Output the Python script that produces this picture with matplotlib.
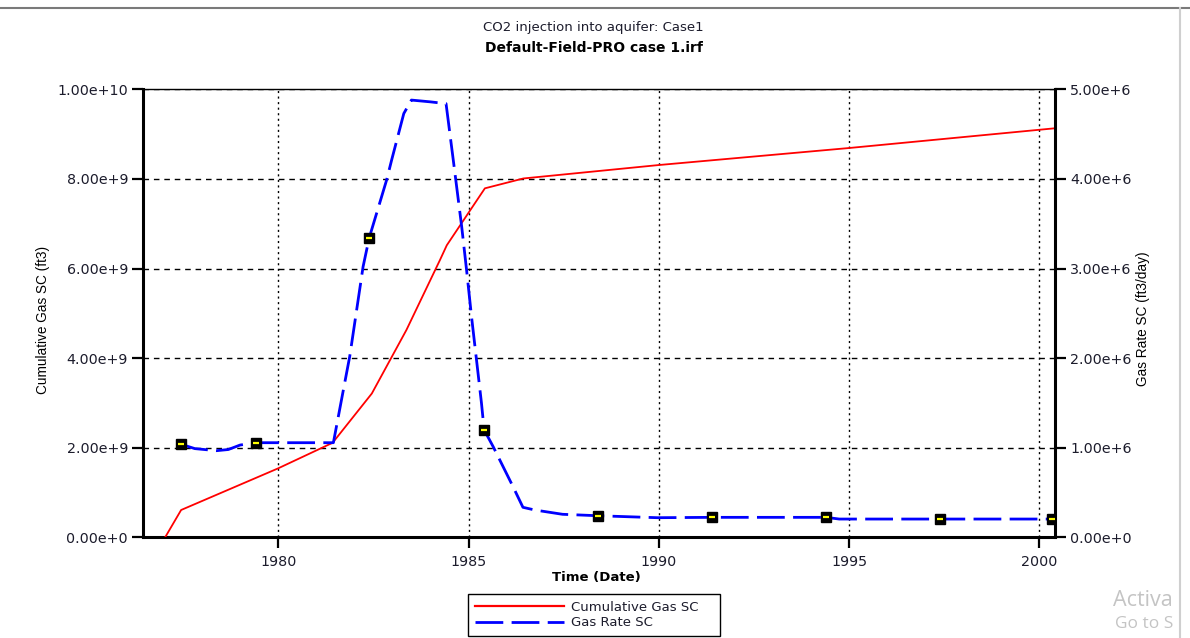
import numpy as np
import matplotlib
matplotlib.use("Agg")
import matplotlib.pyplot as plt
from matplotlib.lines import Line2D
from matplotlib.ticker import FuncFormatter, MultipleLocator

# Cumulative Gas SC (ft3), read per date (decimal year)
cum_years = [1977.03, 1977.45, 1980.0, 1981.43, 1982.46, 1983.37, 1984.25,
             1984.43, 1985.43, 1986.44, 1990.0, 1995.0, 2000.40]
cum_gas = [0.0, 0.61e9, 1.54e9, 2.11e9, 3.21e9, 4.63e9, 6.19e9,
           6.52e9, 7.79e9, 8.01e9, 8.31e9, 8.69e9, 9.13e9]

# Gas Rate SC (ft3/day)
rate_years = [1977.44, 1977.81, 1978.38, 1978.69, 1979.00, 1979.42, 1981.45,
              1981.71, 1981.88, 1982.23, 1982.39, 1982.85, 1982.98, 1983.30,
              1983.50, 1984.00, 1984.41, 1984.60, 1984.82, 1984.95, 1985.08,
              1985.21, 1985.34, 1985.41, 1985.65, 1986.17, 1986.43, 1986.74,
              1987.47, 1988.40, 1989.96, 1991.40, 1994.39, 1994.74, 1997.39,
              2000.34]
gas_rate = [1.04e6, 0.99e6, 0.967e6, 0.98e6, 1.03e6, 1.056e6, 1.056e6,
            1.64e6, 2.02e6, 3.02e6, 3.34e6, 3.99e6, 4.21e6, 4.73e6,
            4.88e6, 4.86e6, 4.84e6, 4.21e6, 3.47e6, 2.98e6, 2.46e6,
            1.98e6, 1.50e6, 1.20e6, 1.01e6, 0.565e6, 0.335e6, 0.305e6,
            0.257e6, 0.241e6, 0.219e6, 0.223e6, 0.223e6, 0.204e6, 0.204e6,
            0.204e6]
marker_years = [1977.44, 1979.42, 1982.39, 1985.41, 1988.40, 1991.40,
                1994.39, 1997.39, 2000.34]

x_ticks = [1980, 1985, 1990, 1995, 2000]

TXT = "#1c1c2c"
plt.rcParams["font.family"] = ["DejaVu Sans"]


def sci_fmt(v, pos=None):
    if v == 0:
        return "0.00e+0"
    e = int(np.floor(np.log10(abs(v)) + 1e-9))
    return f"{v / 10**e:.2f}e+{e}"


fig = plt.figure(figsize=(11.9, 6.38), dpi=100)
ax = fig.add_axes([0.1199, 0.1578, 0.7664, 0.7022])
ax2 = ax.twinx()

ax.plot(cum_years, cum_gas, color="#ff0000", lw=1.3, zorder=3)

mk_idx = list(np.where(np.isin(rate_years, marker_years))[0])
ax2.plot(rate_years, gas_rate, color="#0000ff", lw=2.0, dashes=(10, 3),
         marker="s", markersize=6.5, markerfacecolor="black",
         markeredgecolor="black", markevery=mk_idx, zorder=3)
ax2.plot([rate_years[i] for i in mk_idx], [gas_rate[i] for i in mk_idx],
         ls="none", marker="_", markersize=4, mew=1.6, color="#ffff00", zorder=4)

ax.set_xlim(1976.44, 2000.40)
ax.set_ylim(0, 1e10)
ax2.set_ylim(0, 5e6)
ax.set_xticks(x_ticks)
ax.yaxis.set_major_locator(MultipleLocator(2e9))
ax2.yaxis.set_major_locator(MultipleLocator(1e6))
ax.yaxis.set_major_formatter(FuncFormatter(sci_fmt))
ax2.yaxis.set_major_formatter(FuncFormatter(sci_fmt))

# grid: dotted verticals, dashed horizontals
ax.xaxis.grid(True, color="black", lw=1.0, linestyle=(0, (1.5, 2.5)))
ax.yaxis.grid(True, color="black", lw=1.0, linestyle=(0, (4, 3.5)))
ax.set_axisbelow(True)

for a in (ax, ax2):
    a.tick_params(labelsize=10.3, labelcolor=TXT, length=8, width=1.6,
                  color="black", direction="out")
ax.tick_params(axis="x", pad=5)
ax.tick_params(axis="y", pad=2.5)
ax2.tick_params(axis="y", pad=3)

ax.spines["right"].set_visible(False)
ax.spines["top"].set_linewidth(1.0)
ax.spines["left"].set_linewidth(2.2)
ax.spines["bottom"].set_linewidth(2.2)
for s in ("left", "top", "bottom"):
    ax2.spines[s].set_visible(False)
ax2.spines["right"].set_linewidth(2.2)

# titles and axis labels
fig.text(593 / 1190, 1 - 28 / 638, "CO2 injection into aquifer: Case1",
         ha="center", va="center", fontsize=9.5, color=TXT)
fig.text(594 / 1190, 1 - 48 / 638, "Default-Field-PRO case 1.irf",
         ha="center", va="center", fontsize=10, fontweight="bold", color="black")
fig.text(596 / 1190, 1 - 577 / 638, "Time (Date)", ha="center", va="center",
         fontsize=9.5, fontweight="bold", color="black")
side = ["Liberation Sans", "DejaVu Sans"]
fig.text(43 / 1190, 1 - 320 / 638, "Cumulative Gas SC (ft3)", rotation=90,
         ha="center", va="center", fontsize=9.8, family=side, color="black")
fig.text(1143 / 1190, 1 - 319 / 638, "Gas Rate SC (ft3/day)", rotation=90,
         ha="center", va="center", fontsize=9.8, family=side, color="black")

handles = [Line2D([], [], color="#ff0000", lw=1.6),
           Line2D([], [], color="#0000ff", lw=2.0, dashes=(10, 3))]
leg = fig.legend(handles, ["Cumulative Gas SC", "Gas Rate SC"],
                 loc="upper left", mode="expand",
                 bbox_to_anchor=(468 / 1190, 3 / 638, 252 / 1190, 41 / 638),
                 borderaxespad=0, fancybox=False, framealpha=1,
                 edgecolor="black", fontsize=9.5, handlelength=6.75,
                 handletextpad=0.58, labelspacing=0.22, borderpad=0.5)
leg.get_frame().set_linewidth(1.0)
for t in leg.get_texts():
    t.set_color(TXT)

# window edges and overlay text at the bottom right
fig.add_artist(Line2D([0, 1], [1 - 8 / 638] * 2, color="#7a7a7a", lw=1.5,
                      transform=fig.transFigure))
fig.add_artist(Line2D([1180 / 1190] * 2, [0, 1 - 8 / 638], color="#cfcfcf",
                      lw=1.5, transform=fig.transFigure))
for s, x, y, fs in [("Activa", 1113, 606, 15.5), ("Go to S", 1115, 628, 12.5)]:
    fig.text(x / 1190, 1 - y / 638, s, ha="left", va="baseline",
             fontsize=fs, color="#c4c4c4", family=["Open Sans", "DejaVu Sans"])

fig.savefig("out.png", dpi=100)
